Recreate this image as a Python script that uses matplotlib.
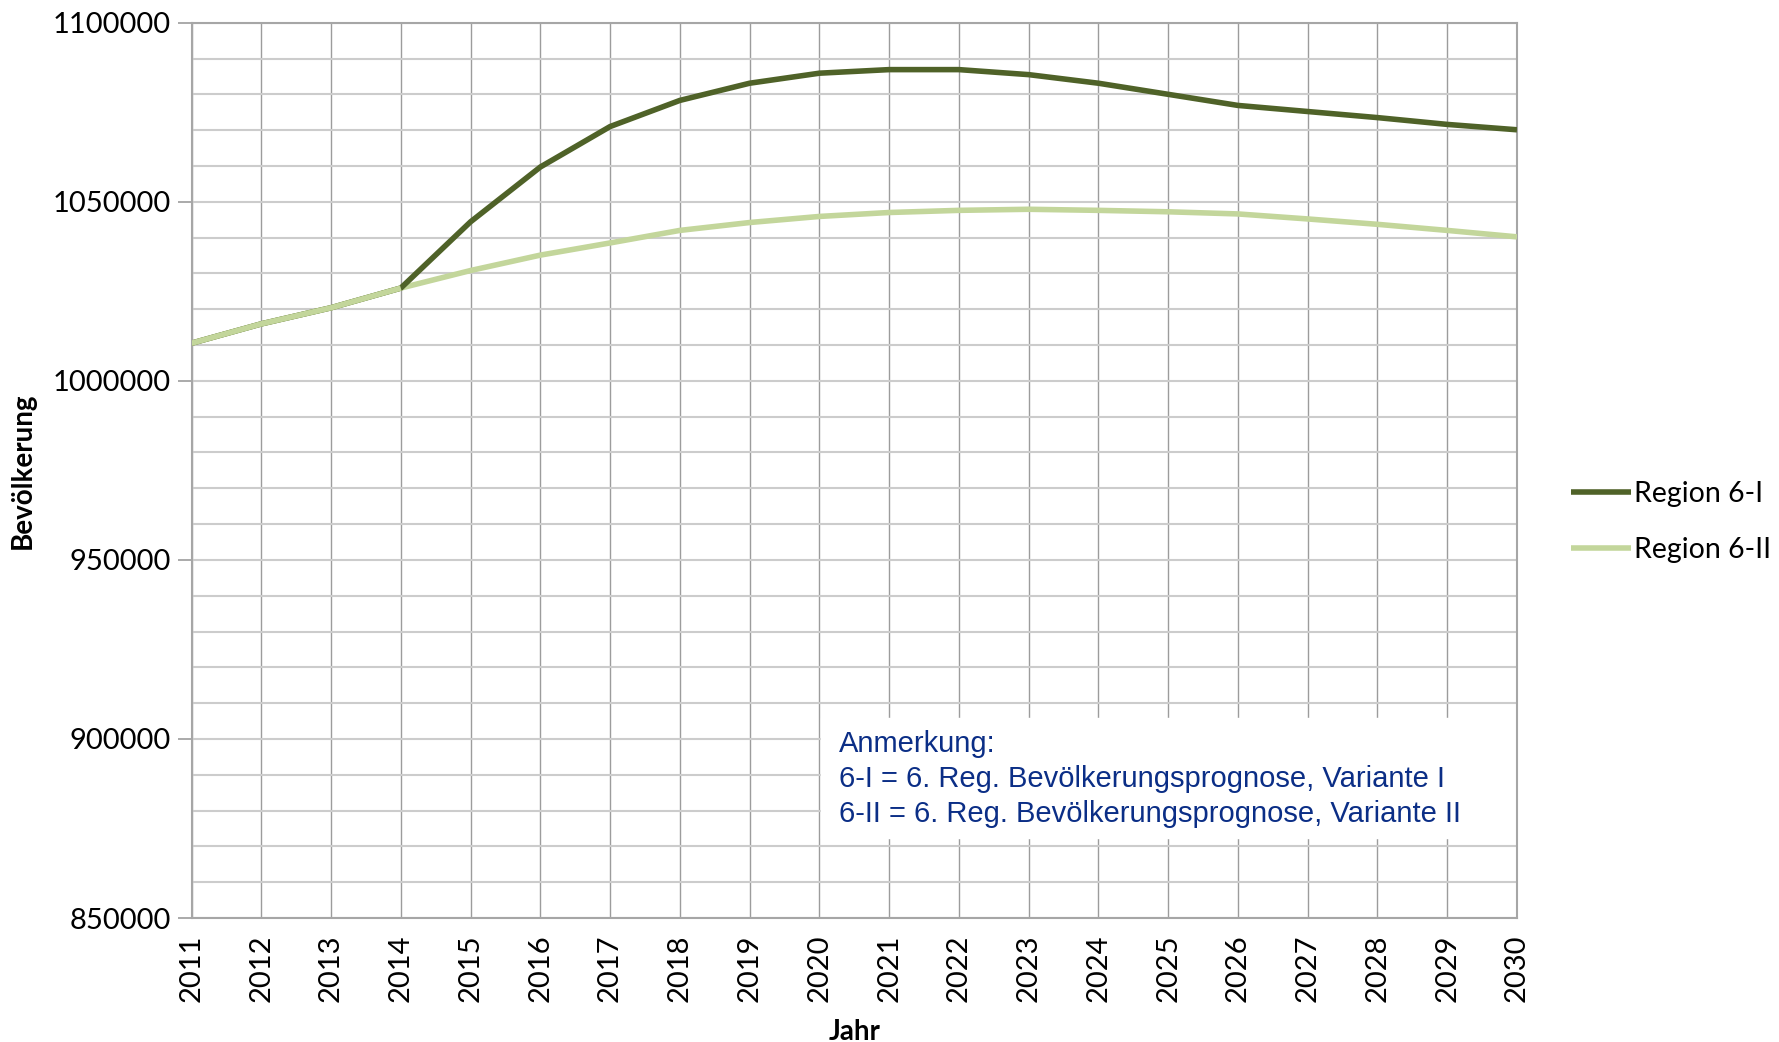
import matplotlib
matplotlib.use("Agg")
import matplotlib.pyplot as plt
from matplotlib.ticker import MultipleLocator, FuncFormatter

# Jahre und Prognosewerte (Region 6-I / 6-II)
years = [2011, 2012, 2013, 2014, 2015, 2016, 2017, 2018, 2019, 2020,
         2021, 2022, 2023, 2024, 2025, 2026, 2027, 2028, 2029, 2030]
region_6_i = [1010500, 1015900, 1020400, 1025900, 1044400, 1059700, 1071000,
              1078300, 1083100, 1085900, 1086900, 1086900, 1085500, 1083100,
              1080000, 1076900, 1075200, 1073500, 1071600, 1070100]
region_6_ii = [1010500, 1015900, 1020400, 1025900, 1030800, 1035100, 1038500,
               1042000, 1044200, 1045900, 1047000, 1047600, 1047900, 1047600,
               1047200, 1046600, 1045200, 1043700, 1042000, 1040200]
series_labels = ["Region 6-I", "Region 6-II"]
note_lines = ["Anmerkung:",
              "6-I = 6. Reg. Bevölkerungsprognose, Variante I",
              "6-II = 6. Reg. Bevölkerungsprognose, Variante II"]

DARK = "#4f6228"
LIGHT = "#c3d69b"
NOTE_BLUE = "#0b2e86"
TICK_FONT = "Lato"

fig = plt.figure(figsize=(17.79, 10.42), dpi=100)
ax = fig.add_axes([191.5 / 1779, 1 - 918 / 1042, (1517 - 191.5) / 1779, (918 - 22.7) / 1042])

ax.plot(years, region_6_ii, color=LIGHT, lw=4, label=series_labels[1], zorder=3,
        solid_capstyle="butt")
ax.plot(years, region_6_i, color=DARK, lw=4, label=series_labels[0], zorder=4,
        solid_capstyle="butt")
# light line on top where both series are identical (2011-2014)
ax.plot(years[:4], region_6_ii[:4], color=LIGHT, lw=4, zorder=5, solid_capstyle="butt")

ax.set_xlim(years[0], years[-1])
ax.set_ylim(850000, 1100000)
ax.set_xticks(years)
ax.set_xticklabels([str(y) for y in years], rotation=90, fontsize=21, family=TICK_FONT)
ax.yaxis.set_major_locator(MultipleLocator(50000))
ax.yaxis.set_minor_locator(MultipleLocator(10000))
ax.yaxis.set_major_formatter(FuncFormatter(lambda v, p: f"{int(round(v))}"))
for lbl in ax.get_yticklabels():
    lbl.set_fontsize(21)
    lbl.set_family(TICK_FONT)

ax.grid(axis="y", which="both", color="#cccccc", lw=1.5, zorder=0)
ax.grid(axis="x", which="major", color="#9c9c9c", lw=1.0, zorder=0)
ax.tick_params(axis="y", which="major", length=10, width=1.2, color="#9c9c9c", pad=5)
ax.tick_params(axis="y", which="minor", length=0)
ax.tick_params(axis="x", length=0, pad=12)
for side in ["top", "right", "bottom", "left"]:
    ax.spines[side].set_color("#a6a6a6")
    ax.spines[side].set_linewidth(1.5)

ax.set_xlabel("Jahr", fontsize=20, fontweight="bold", family=TICK_FONT, labelpad=12)
ax.set_ylabel("Bevölkerung", fontsize=20, fontweight="bold", family=TICK_FONT, labelpad=12)

handles, labels = ax.get_legend_handles_labels()
order = [1, 0]
leg = fig.legend([handles[i] for i in order], [labels[i] for i in order],
                 loc="center left", bbox_to_anchor=(1571 / 1779, 1 - 522 / 1042),
                 frameon=False, prop={"family": TICK_FONT, "size": 20.5},
                 handlelength=2.1, handletextpad=0.1, labelspacing=1.05,
                 borderaxespad=0, borderpad=0)

# white backing of the note area
ax.fill_between([2020.03, 2029.97], 872300, 905800, color="white", zorder=2)
ax.text(2020.28, 902600, "\n".join(note_lines), color=NOTE_BLUE, fontsize=21,
        family="Liberation Sans", va="top", ha="left", linespacing=1.33, zorder=6)

fig.savefig("out.png", dpi=100, facecolor="white")
